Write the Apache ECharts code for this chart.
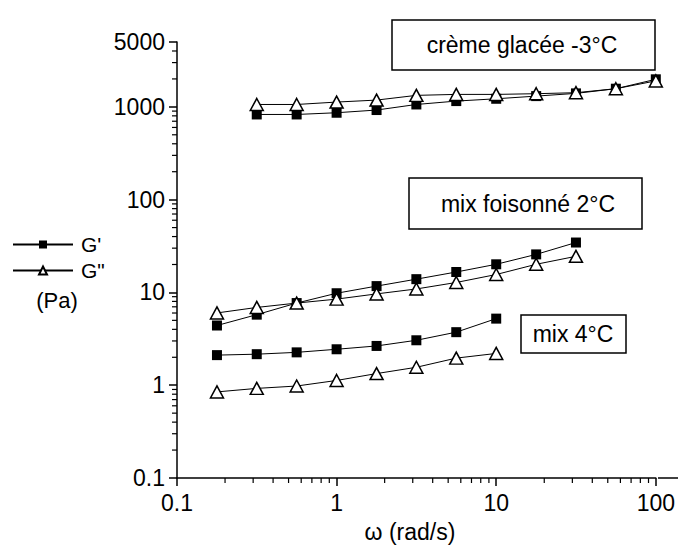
<!DOCTYPE html>
<html>
<head>
<meta charset="utf-8">
<script src="https://cdn.jsdelivr.net/npm/echarts@6/dist/echarts.min.js"></script>
<style>
html,body{margin:0;padding:0;background:#fff;}
#chart{width:678px;height:552px;}
</style>
</head>
<body>
<div id="chart"></div>
<script>
// ---- data ----
const omegaCreme = [0.316, 0.562, 1, 1.78, 3.16, 5.62, 10, 17.8, 31.6, 56.2, 100];
const cremeGp  = [828, 828, 864, 924, 1061, 1154, 1222, 1306, 1397, 1569, 1981];
const cremeGpp = [1061, 1061, 1126, 1183, 1330, 1362, 1362, 1386, 1421, 1569, 1904];

const omegaFoisonne = [0.178, 0.316, 0.562, 1, 1.78, 3.16, 5.62, 10, 17.8, 31.6];
const foisonneGp  = [4.40, 5.76, 7.68, 9.80, 11.7, 13.9, 16.6, 20.1, 25.7, 34.5];
const foisonneGpp = [6.01, 6.89, 7.68, 8.47, 9.64, 10.9, 12.8, 15.6, 20.1, 24.5];

const omegaMix = [0.178, 0.316, 0.562, 1, 1.78, 3.16, 5.62, 10];
const mixGp  = [2.11, 2.16, 2.26, 2.44, 2.65, 3.05, 3.73, 5.22];
const mixGpp = [0.847, 0.924, 0.98, 1.125, 1.335, 1.56, 1.96, 2.20];

const xMinorTicks = [0.2,0.3,0.4,0.5,0.6,0.7,0.8,0.9, 2,3,4,5,6,7,8,9, 20,30,40,50,60,70,80,90];
const yMinorTicks = [0.2,0.3,0.4,0.5,0.6,0.7,0.8,0.9, 2,3,4,5,6,7,8,9, 20,30,40,50,60,70,80,90,
                     200,300,400,500,600,700,800,900, 2000,3000,4000];

const nameGp = "G'";
const nameGpp = 'G"';
const annotations = ['crème glacée -3°C', 'mix foisonné 2°C', 'mix 4°C'];
const xTitle = 'ω (rad/s)';
const unitLabel = '(Pa)';

// ---- chart ----
const FONT = 'Liberation Sans, Arial, Helvetica, sans-serif';
const chart = echarts.init(document.getElementById('chart'), null, {renderer: 'svg'});

function pairs(xs, ys){ return xs.map((x,i)=>[x, ys[i]]); }

function gpSeries(xs, ys){
  return {
    type:'line', name:nameGp, data:pairs(xs, ys),
    symbol:'rect', symbolSize:10, showSymbol:true,
    lineStyle:{color:'#000', width:1},
    itemStyle:{color:'#000', borderColor:'#000', borderWidth:0},
    emphasis:{disabled:true}, z:3
  };
}
function gppSeries(xs, ys){
  return {
    type:'line', name:nameGpp, data:pairs(xs, ys),
    symbol:'triangle', symbolSize:[13,12], showSymbol:true,
    lineStyle:{color:'#000', width:1},
    itemStyle:{color:'#fff', borderColor:'#000', borderWidth:1.5},
    emphasis:{disabled:true}, z:4
  };
}

function fmt(v){
  const r = +(+v).toPrecision(3);
  return String(r);
}

const option = {
  backgroundColor:'#fff',
  animation:false,
  textStyle:{fontFamily:FONT},
  grid:{left:177, right:20, top:42, bottom:74, containLabel:false},
  xAxis:{
    type:'log', logBase:10, min:0.1, max:100,
    axisLine:{show:true, lineStyle:{color:'#000', width:1.5}},
    axisTick:{show:true, inside:false, length:8, lineStyle:{color:'#000', width:1.5}},
    minorTick:{show:false},
    splitLine:{show:false},
    axisLabel:{color:'#000', fontSize:23, fontFamily:FONT, margin:13, formatter:fmt}
  },
  yAxis:{
    type:'log', logBase:10, min:0.1, max:5000,
    axisLine:{show:true, lineStyle:{color:'#000', width:1.5}},
    axisTick:{show:true, inside:false, length:8, lineStyle:{color:'#000', width:1.5}},
    minorTick:{show:false},
    splitLine:{show:false},
    axisLabel:{color:'#000', fontSize:23, fontFamily:FONT, margin:12, formatter:fmt, showMaxLabel:true}
  },
  legend:{
    data:[nameGp, nameGpp],
    orient:'vertical', left:7, top:229,
    itemWidth:60, itemHeight:10, itemGap:5,
    selectedMode:false,
    textStyle:{color:'#000', fontSize:21, fontFamily:FONT, padding:[0,0,0,3]},
    inactiveColor:'#000'
  },
  series:[
    gpSeries(omegaCreme, cremeGp), gppSeries(omegaCreme, cremeGpp),
    gpSeries(omegaFoisonne, foisonneGp), gppSeries(omegaFoisonne, foisonneGpp),
    gpSeries(omegaMix, mixGp), gppSeries(omegaMix, mixGpp),
    {
      type:'custom', name:'xminor', silent:true, clip:false,
      data: xMinorTicks.map(v=>[v, 0.1]),
      renderItem:function(params, api){
        const p = api.coord([api.value(0), api.value(1)]);
        return {type:'line', shape:{x1:p[0], y1:p[1], x2:p[0], y2:p[1]+5},
                style:{stroke:'#000', lineWidth:1.2}};
      }
    },
    {
      type:'custom', name:'yminor', silent:true, clip:false,
      data: yMinorTicks.map(v=>[0.1, v]),
      renderItem:function(params, api){
        const p = api.coord([api.value(0), api.value(1)]);
        return {type:'line', shape:{x1:p[0]-5, y1:p[1], x2:p[0], y2:p[1]},
                style:{stroke:'#000', lineWidth:1.2}};
      }
    }
  ],
  graphic:[
    // extension of x axis line past 100
    {type:'line', shape:{x1:658, y1:478, x2:678, y2:478}, style:{stroke:'#000', lineWidth:1.5}},
    {type:'rect', shape:{x:392, y:20, width:263, height:50}, style:{fill:'#fff', stroke:'#000', lineWidth:1.5}, z:10},
    {type:'text', x:522, y:45, style:{text:annotations[0], fill:'#000', font:'23px '+FONT, align:'center', verticalAlign:'middle'}, z:11},
    {type:'rect', shape:{x:409, y:178, width:233, height:51}, style:{fill:'#fff', stroke:'#000', lineWidth:1.5}, z:10},
    {type:'text', x:528, y:204, style:{text:annotations[1], fill:'#000', font:'23px '+FONT, align:'center', verticalAlign:'middle'}, z:11},
    {type:'rect', shape:{x:521, y:315, width:105, height:38}, style:{fill:'#fff', stroke:'#000', lineWidth:1.5}, z:10},
    {type:'text', x:573, y:334, style:{text:annotations[2], fill:'#000', font:'23px '+FONT, align:'center', verticalAlign:'middle'}, z:11},
    {type:'text', x:57, y:300, style:{text:unitLabel, fill:'#000', font:'22px '+FONT, align:'center', verticalAlign:'middle'}},
    {type:'text', x:410, y:532, style:{text:xTitle, fill:'#000', font:'23px '+FONT, align:'center', verticalAlign:'middle'}}
  ]
};
chart.setOption(option);
</script>
</body>
</html>
